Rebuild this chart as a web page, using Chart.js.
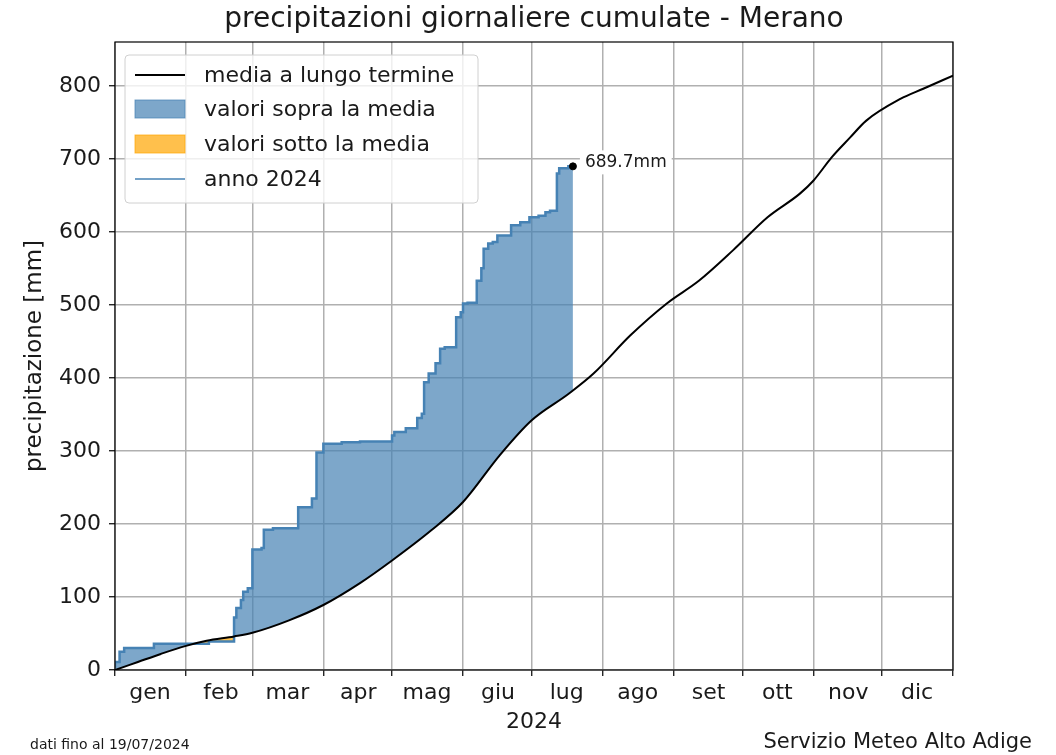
<!DOCTYPE html>
<html>
<head>
<meta charset="utf-8">
<script src="https://cdn.jsdelivr.net/npm/chart.js@4.4.1/dist/chart.umd.min.js"></script>
<style>
  html, body { margin: 0; padding: 0; background: #fff; }
</style>
</head>
<body>
<canvas id="PrecipChart" width="1056" height="755"></canvas>
<script>
// dati - giorno dell'anno (0 = 1 gennaio) e valori cumulati in mm

// media a lungo termine
const meanDays = [0, 10, 20, 31, 40, 52, 60, 76, 91, 107, 121, 138, 152, 168, 182, 198, 209, 225, 241, 255, 270, 285, 299, 305, 313, 321, 328, 343, 353, 366];
const meanVals = [0, 11, 22, 33, 40, 46, 51, 68, 89, 119, 150, 191, 230, 294, 342, 378, 406, 458, 502, 533, 575, 620, 652, 670, 702, 729, 752, 782, 796, 814];

// anno 2024 (gradini)
const days2024 = [0, 2, 4, 17, 41, 52, 53, 55, 56, 58, 60, 64, 65, 69, 80, 86, 88, 91, 99, 107, 121, 122, 127, 132, 134, 135, 137, 140, 142, 144, 149, 151, 152, 154, 158, 160, 161, 163, 165, 167, 173, 177, 181, 185, 188, 190, 193, 194, 198, 200];
const vals2024 = [3, 11, 25, 30, 36, 39, 72, 85, 96, 107, 112, 165, 167, 192, 194, 223, 235, 298, 310, 312, 313, 321, 326, 331, 345, 351, 394, 406, 420, 440, 442, 483, 490, 502, 503, 533, 550, 577, 584, 586, 595, 609, 613, 620, 622, 627, 629, 680, 687, 689.7];

// ultimo valore
const lastDay = [200];
const lastVal = [689.7];

// assi
const monthStarts = [0, 31, 60, 91, 121, 152, 182, 213, 244, 274, 305, 335, 366];
const monthNames = ['gen', 'feb', 'mar', 'apr', 'mag', 'giu', 'lug', 'ago', 'set', 'ott', 'nov', 'dic', ''];
const yTicks = [0, 100, 200, 300, 400, 500, 600, 700, 800];

const FONT = "'DejaVu Sans', sans-serif";
const TXT = '#1a1a1a';

// Plugin: titolo, cornice, legenda, etichetta e note in basso
const extras = {
    id: 'extras',
    afterDraw(chart) {
        const ctx = chart.ctx;
        const a = chart.chartArea;
        const xs = chart.scales.x, ys = chart.scales.y;
        ctx.save();

        // cornice
        ctx.strokeStyle = '#000';
        ctx.lineWidth = 1.2;
        ctx.strokeRect(a.left, a.top, a.right - a.left, a.bottom - a.top);

        // titolo
        ctx.fillStyle = TXT;
        ctx.font = '28px ' + FONT;
        ctx.textAlign = 'center';
        ctx.textBaseline = 'middle';
        ctx.fillText('precipitazioni giornaliere cumulate - Merano', (a.left + a.right) / 2, 20);

        // etichetta ultimo valore
        const px = xs.getPixelForValue(lastDay[0]);
        const py = ys.getPixelForValue(lastVal[0]);
        ctx.font = '17px ' + FONT;
        ctx.textAlign = 'left';
        const label = lastVal[0].toFixed(1) + 'mm';
        const w = ctx.measureText(label).width;
        ctx.fillStyle = '#fff';
        ctx.fillRect(px + 7, py - 16, w + 10, 24);
        ctx.fillStyle = TXT;
        ctx.fillText(label, px + 12, py - 4);

        // legenda
        const lx = a.left + 10, ly = a.top + 13, lw = 353, lh = 148;
        ctx.fillStyle = 'rgba(255,255,255,0.8)';
        ctx.strokeStyle = '#d0d0d0';
        ctx.lineWidth = 1;
        ctx.beginPath();
        ctx.roundRect(lx, ly, lw, lh, 4);
        ctx.fill();
        ctx.stroke();

        const rows = [ly + 20, ly + 54, ly + 89, ly + 124];
        ctx.font = '22px ' + FONT;
        ctx.textBaseline = 'middle';
        // media
        ctx.strokeStyle = '#000';
        ctx.lineWidth = 2;
        ctx.beginPath(); ctx.moveTo(lx + 10, rows[0]); ctx.lineTo(lx + 60, rows[0]); ctx.stroke();
        // sopra
        ctx.fillStyle = 'rgba(70,130,180,0.7)';
        ctx.fillRect(lx + 10, rows[1] - 9, 50, 18);
        ctx.strokeStyle = 'rgba(70,130,180,0.7)';
        ctx.lineWidth = 1;
        ctx.strokeRect(lx + 10, rows[1] - 9, 50, 18);
        // sotto
        ctx.fillStyle = 'rgba(255,165,0,0.7)';
        ctx.fillRect(lx + 10, rows[2] - 9, 50, 18);
        ctx.strokeStyle = 'rgba(255,165,0,0.7)';
        ctx.strokeRect(lx + 10, rows[2] - 9, 50, 18);
        // anno
        ctx.strokeStyle = 'steelblue';
        ctx.lineWidth = 1.5;
        ctx.beginPath(); ctx.moveTo(lx + 10, rows[3]); ctx.lineTo(lx + 60, rows[3]); ctx.stroke();

        ctx.fillStyle = TXT;
        const names = ['media a lungo termine', 'valori sopra la media', 'valori sotto la media', 'anno 2024'];
        names.forEach((n, i) => ctx.fillText(n, lx + 79, rows[i] + 1));

        // note in basso
        ctx.font = '14px ' + FONT;
        ctx.textAlign = 'left';
        ctx.fillText('dati fino al 19/07/2024', 30, 745);
        ctx.font = '21px ' + FONT;
        ctx.textAlign = 'right';
        ctx.fillText('Servizio Meteo Alto Adige', 1032, 743);

        ctx.restore();
    }
};

const ctx = document.getElementById('PrecipChart').getContext('2d');

const PrecipChart = new Chart(ctx, {
    type: 'line',
    data: {
        datasets: [
            {
                label: 'media a lungo termine',
                data: meanDays.map((d, i) => ({x: d, y: meanVals[i]})),
                borderColor: '#000',
                borderWidth: 2,
                pointRadius: 0,
                cubicInterpolationMode: 'monotone',
                fill: false,
                order: 0
            },
            {
                label: 'anno 2024',
                data: days2024.map((d, i) => ({x: d, y: vals2024[i]})),
                borderColor: 'steelblue',
                borderWidth: 2.5,
                pointRadius: 0,
                stepped: 'after',
                fill: {
                    target: 0,
                    above: 'rgba(70,130,180,0.7)',
                    below: 'rgba(255,165,0,0.7)'
                },
                order: 1
            },
            {
                label: 'ultimo',
                data: lastDay.map((d, i) => ({x: d, y: lastVal[i]})),
                showLine: false,
                pointRadius: 3.5,
                pointBackgroundColor: '#000',
                pointBorderColor: '#000',
                order: -1
            }
        ]
    },
    options: {
        responsive: false,
        animation: false,
        devicePixelRatio: 1,
        layout: { padding: { top: 42, right: 103, left: 0, bottom: 0 } },
        plugins: {
            legend: { display: false },
            tooltip: { enabled: false }
        },
        scales: {
            x: {
                type: 'linear',
                min: 0,
                max: 366,
                afterBuildTicks: (scale) => { scale.ticks = monthStarts.map(v => ({value: v})); },
                afterFit: (scale) => { scale.height = 85; },
                ticks: {
                    autoSkip: false,
                    maxRotation: 0,
                    labelOffset: 35,
                    padding: 4,
                    color: TXT,
                    font: { family: FONT, size: 22 },
                    callback: (v, i) => monthNames[i]
                },
                grid: {
                    color: '#b0b0b0',
                    lineWidth: 1.5,
                    tickLength: 6,
                    tickColor: '#000',
                    tickWidth: 1.2
                },
                border: { display: false },
                title: {
                    display: true,
                    text: '2024',
                    color: TXT,
                    font: { family: FONT, size: 22 },
                    padding: { top: 0, bottom: 20 }
                }
            },
            y: {
                min: 0,
                max: 860,
                afterBuildTicks: (scale) => { scale.ticks = yTicks.map(v => ({value: v})); },
                afterFit: (scale) => { scale.width = 115; },
                ticks: {
                    padding: 8,
                    color: TXT,
                    font: { family: FONT, size: 22 }
                },
                grid: {
                    color: '#b0b0b0',
                    lineWidth: 1.5,
                    tickLength: 6,
                    tickColor: '#000',
                    tickWidth: 1.2
                },
                border: { display: false },
                title: {
                    display: true,
                    text: 'precipitazione [mm]',
                    color: TXT,
                    font: { family: FONT, size: 23 },
                    padding: { top: 21, bottom: 0 }
                }
            }
        }
    },
    plugins: [extras]
});
</script>
</body>
</html>
